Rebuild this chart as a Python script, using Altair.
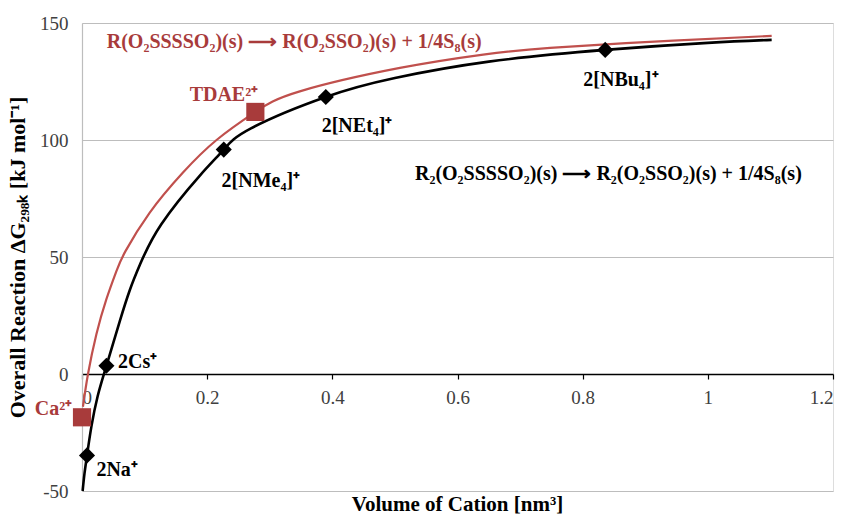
import altair as alt
import pandas as pd

# Fitted curves
black_x = [0.001, 0.004, 0.008, 0.015, 0.025, 0.039, 0.0603, 0.0763, 0.093, 0.127,
           0.188, 0.2265, 0.27, 0.3896, 0.5, 0.65, 0.836, 1.0, 1.102]
black_y = [-50, -42.5, -34.8, -22.5, -9.5, 3.5, 22.5, 35.8, 47, 64.1,
           84.7, 95.9, 105, 118.4, 126.5, 133.5, 138.5, 141.5, 142.8]

red_x = [0.0015, 0.0096, 0.023, 0.039, 0.055, 0.0695, 0.108, 0.161, 0.215, 0.277,
         0.348, 0.508, 0.641, 0.748, 0.945, 1.102]
red_y = [-14, 0, 17, 32, 44, 52.5, 68.9, 86, 100, 112,
         120.8, 130.8, 136.5, 139.4, 142.5, 144.5]

# Data points
dia_names = ["2Na⁺", "2Cs⁺", "2[NMe₄]⁺", "2[NEt₄]⁺", "2[NBu₄]⁺"]
dia_x = [0.008, 0.039, 0.2265, 0.3896, 0.836]
dia_y = [-34.8, 3.5, 95.9, 118.4, 138.5]

sq_names = ["Ca²⁺", "TDAE²⁺"]
sq_x = [0.0, 0.277]
sq_y = [-18.5, 112.0]

# Annotation labels (left edge, vertical centre, in data units)
lab_text = ["2Na⁺", "2Cs⁺", "2[NMe₄]⁺", "2[NEt₄]⁺", "2[NBu₄]⁺", "Ca²⁺", "TDAE²⁺",
            "R(O₂SSSSO₂)(s) ⟶ R(O₂SSO₂)(s) + 1/4S₈(s)",
            "R₂(O₂SSSSO₂)(s) ⟶ R₂(O₂SSO₂)(s) + 1/4S₈(s)"]
lab_x = [0.023, 0.0576, 0.223, 0.383, 0.801, -0.0756, 0.172, 0.0395, 0.532]
lab_y = [-41.2, 5.0, 82.4, 105.9, 125.8, -14.9, 119.4, 142.0, 85.3]
lab_grp = ["k", "k", "k", "k", "k", "r", "r", "r", "k"]

x_ticks = [0, 0.2, 0.4, 0.6, 0.8, 1.0, 1.2]
y_ticks = [-50, 0, 50, 100, 150]

FONT = "Liberation Serif"
RED_LINE = "#c0504d"
RED_DARK = "#a83b3b"

black_df = pd.DataFrame({"x": black_x, "y": black_y})
red_df = pd.DataFrame({"x": red_x, "y": red_y})
dia_df = pd.DataFrame({"name": dia_names, "x": dia_x, "y": dia_y})
sq_df = pd.DataFrame({"name": sq_names, "x": sq_x, "y": sq_y})
lab_df = pd.DataFrame({"text": lab_text, "x": lab_x, "y": lab_y, "g": lab_grp})

xscale = alt.Scale(domain=[0, 1.2], nice=False, zero=False)
yscale = alt.Scale(domain=[-50, 150], nice=False, zero=False)

xaxis = alt.Axis(values=x_ticks, offset=-117, title=None, grid=False,
                 labelExpr="'' + datum.value",
                 domain=True, domainColor="black", domainWidth=1.5,
                 ticks=True, tickColor="black", tickSize=5, tickWidth=1.2,
                 labelFont=FONT, labelFontSize=19, labelColor="#404040", labelPadding=9)
yaxis = alt.Axis(values=y_ticks, title="Overall Reaction ΔG₂₉₈ₖ [kJ mol⁻¹]",
                 labelExpr="'' + datum.value",
                 grid=True, gridColor="#bdbdbd", gridWidth=1.2,
                 domain=True, domainColor="#bdbdbd", domainWidth=1.2, ticks=False,
                 labelFont=FONT, labelFontSize=19, labelColor="#404040", labelPadding=14,
                 titleFont=FONT, titleFontSize=22, titleFontWeight="bold", titleColor="black",
                 titleX=-65, titleY=234, titleAngle=-90, titleAlign="center",
                 titleBaseline="middle")

base_x = alt.X("x:Q", scale=xscale, axis=xaxis)
base_y = alt.Y("y:Q", scale=yscale, axis=yaxis)

red_line = alt.Chart(red_df).mark_line(color=RED_LINE, strokeWidth=2.2,
                                       interpolate="natural").encode(x=base_x, y=base_y)
black_line = alt.Chart(black_df).mark_line(color="black", strokeWidth=2.6,
                                           interpolate="natural").encode(
    x=alt.X("x:Q", scale=xscale), y=alt.Y("y:Q", scale=yscale))
diamonds = alt.Chart(dia_df).mark_point(shape="diamond", filled=True, color="black",
                                        size=260, opacity=1).encode(
    x=alt.X("x:Q", scale=xscale), y=alt.Y("y:Q", scale=yscale))
squares = alt.Chart(sq_df).mark_point(shape="square", filled=True, color=RED_DARK,
                                      size=330, opacity=1).encode(
    x=alt.X("x:Q", scale=xscale), y=alt.Y("y:Q", scale=yscale))
labels = alt.Chart(lab_df).mark_text(align="left", baseline="middle", font=FONT,
                                     fontSize=20, fontWeight="bold").encode(
    x=alt.X("x:Q", scale=xscale), y=alt.Y("y:Q", scale=yscale), text="text:N",
    color=alt.Color("g:N", scale=alt.Scale(domain=["k", "r"], range=["black", RED_DARK]),
                    legend=None))

chart = alt.layer(red_line, black_line, diamonds, squares, labels).properties(
    width=751, height=468,
    autosize=alt.AutoSizeParams(type="none"),
    padding={"left": 82, "top": 23, "right": 14, "bottom": 25},
    title=alt.TitleParams("Volume of Cation [nm³]", orient="bottom", font=FONT,
                          fontSize=21, fontWeight="bold", color="black", offset=-7,
                          anchor="middle"),
).configure_view(stroke=None).configure(background="white")

chart.save("out.html", embed_options={"renderer": "svg", "actions": False})
